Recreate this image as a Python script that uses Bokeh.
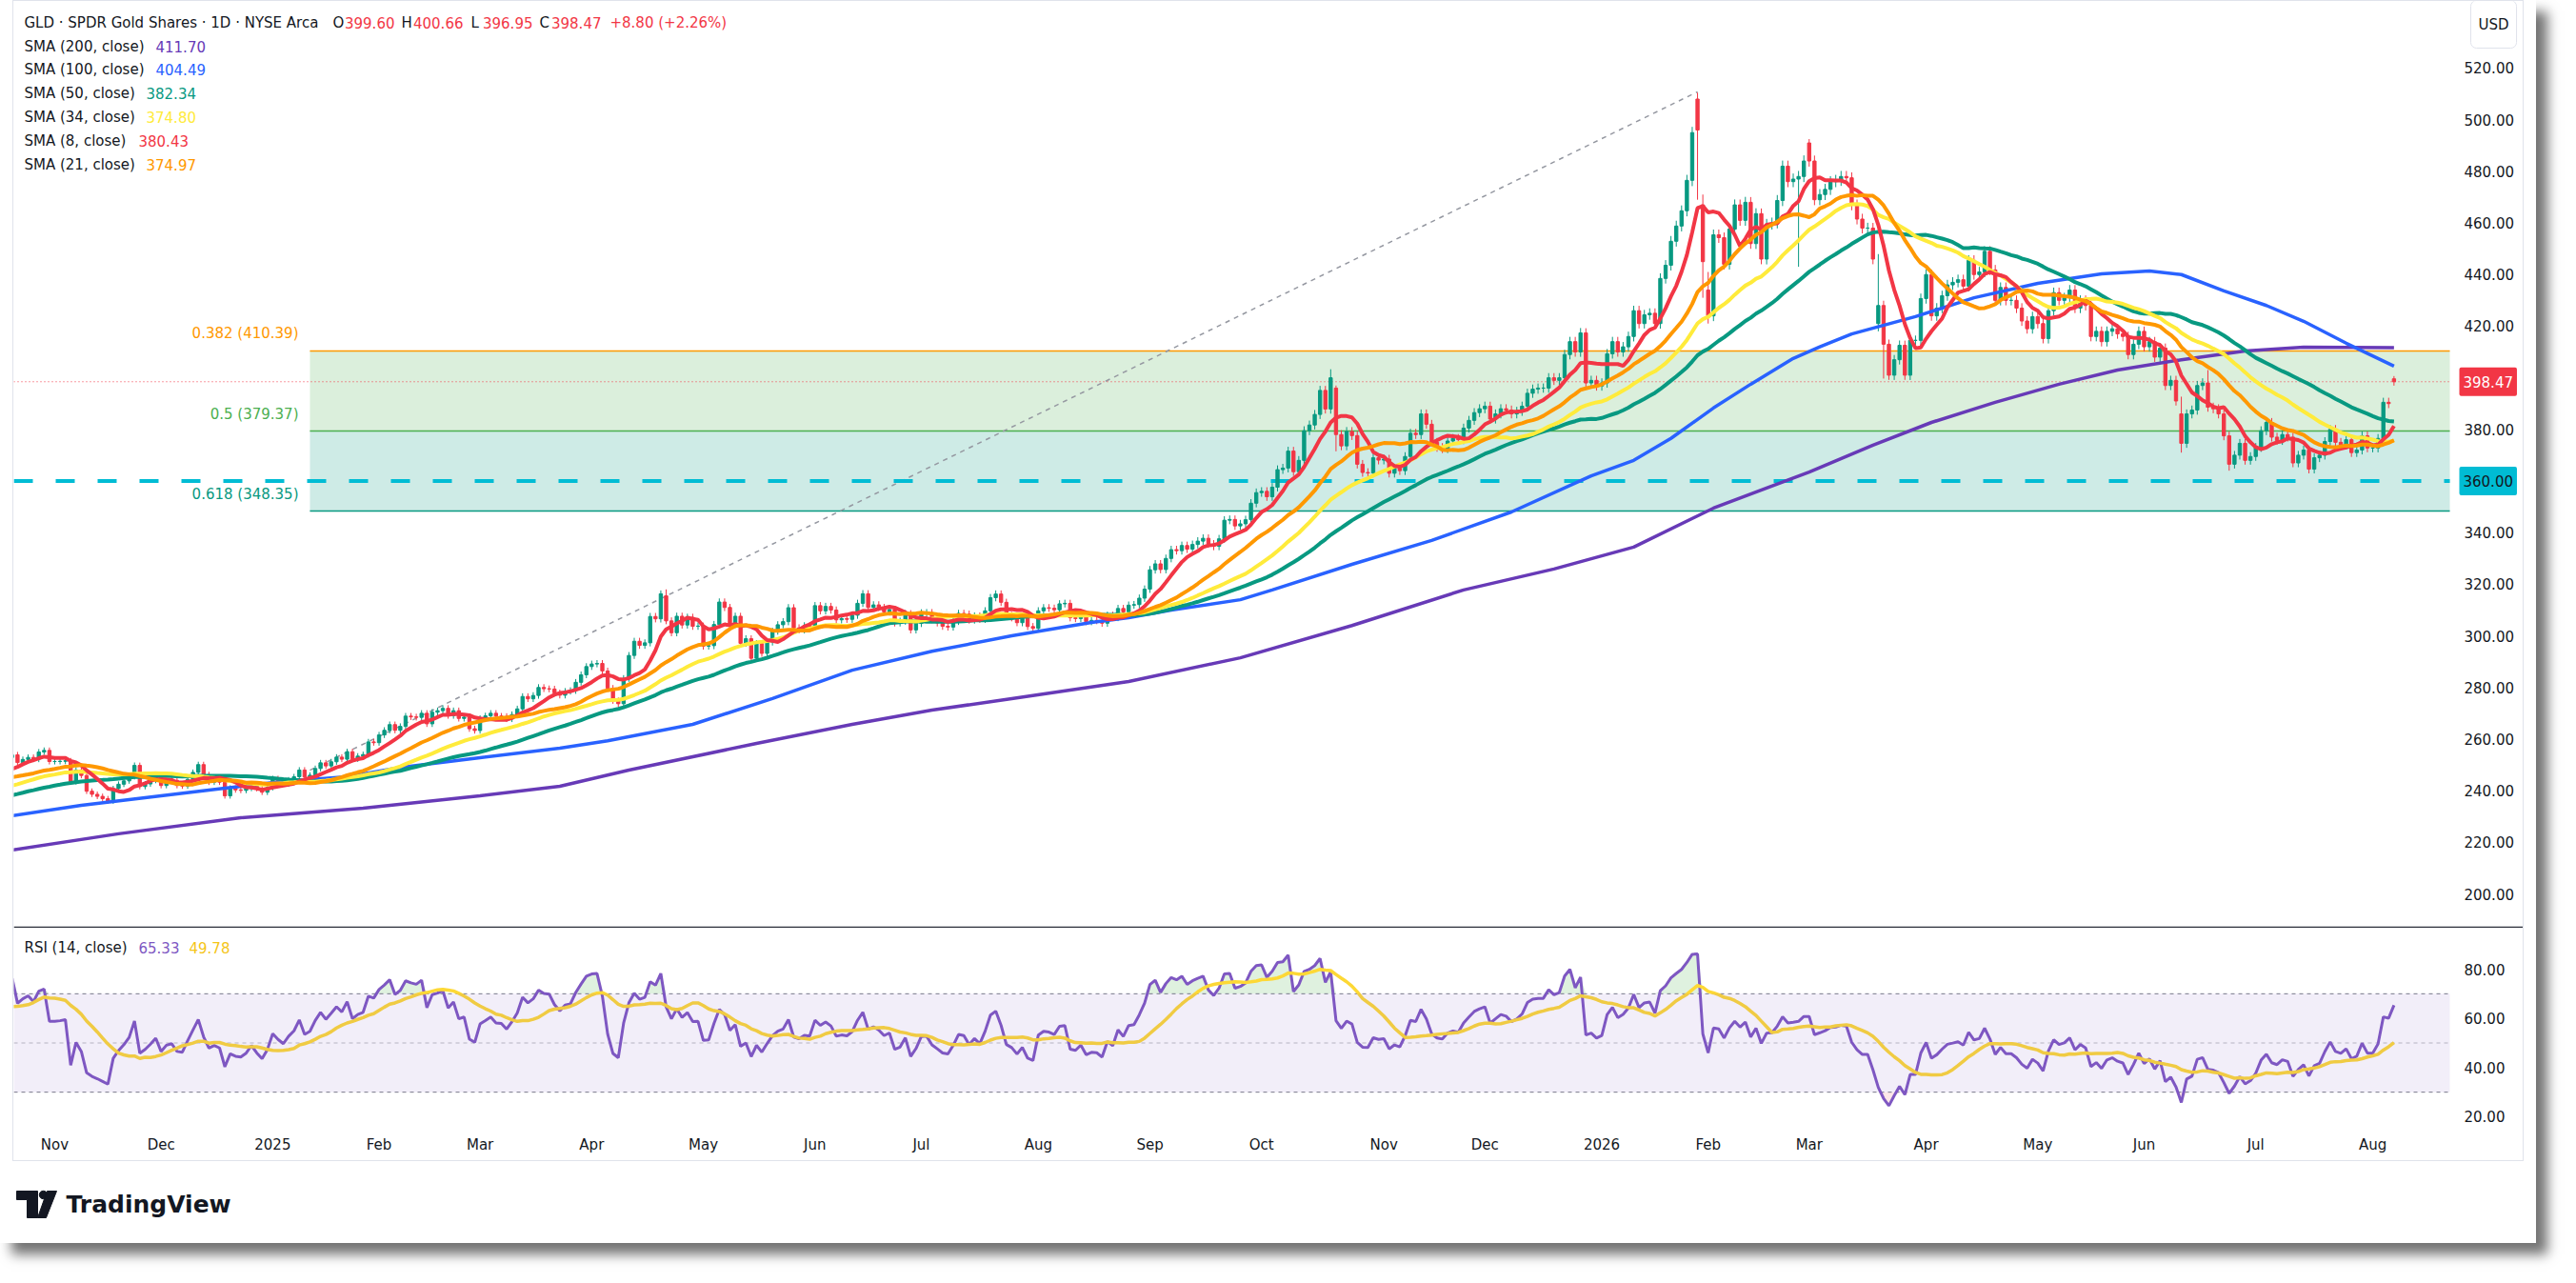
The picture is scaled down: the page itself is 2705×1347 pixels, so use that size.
import numpy as np
import pandas as pd
from bokeh.plotting import figure
from bokeh.models import (Range1d, FixedTicker, Label, Span, BoxAnnotation,
                          NumeralTickFormatter, Spacer)
from bokeh.layouts import column, row
from bokeh.embed import file_html
from bokeh.resources import INLINE
from bokeh.core.properties import value

# ---------------- data (daily closes, trading-day index 0 = 1 Nov 2024) ----------------
FIRST_VISIBLE = -8          # 22 Oct 2024
warmup_closes = [  # 12 Aug - 21 Oct 2024 (indicator warm-up, not drawn)
    225.0, 227.0, 226.4, 225.9, 230.7, 230.6, 232.1, 232.7, 229.6, 232.4,
    232.0, 232.0, 231.1, 232.5, 231.3, 228.8, 230.1, 232.6, 230.0,
    231.1, 232.0, 233.4, 237.5, 238.7, 239.2, 238.3, 236.9, 240.8, 242.7,
    242.5, 244.8, 244.7, 245.2, 243.3, 243.1,
    245.3, 244.3, 243.6, 243.1, 243.2, 240.6, 240.3, 241.9, 244.9,
    243.6, 245.5, 247.2, 248.7, 250.9, 252.8]
closes_2024 = [  # 22 Oct - 31 Dec 2024
    253.9, 250.9, 252.1, 252.9, 252.2, 255.0, 255.6, 251.3,
    251.3, 251.4, 251.6, 243.5, 248.0, 245.9, 239.8, 238.6, 237.8, 236.9,
    236.0, 240.8, 242.5, 243.8, 245.5, 249.8, 241.6, 242.6, 244.0, 245.6,
    242.0, 243.6, 244.0, 242.0, 241.8, 244.4, 247.1, 250.1, 246.2, 243.3,
    243.9, 243.3, 238.0, 241.0, 240.3, 240.1, 240.9, 242.5, 240.8, 239.4, 241.2]
closes_2025_h1 = [  # Jan - Jun 2025
    244.7, 243.5, 242.6, 244.2, 245.4, 248.0, 245.3, 246.0, 248.6, 250.8,
    249.6, 251.2, 253.0, 252.2, 255.1, 252.3, 253.4, 254.0, 258.9, 258.6,
    261.6, 263.4, 265.6, 263.4, 264.9, 268.9, 268.6, 268.4, 270.0, 265.9,
    270.4, 271.0, 271.9, 269.1, 271.0, 268.0, 268.5, 264.0, 263.3,
    268.0, 269.0, 270.0, 268.9, 268.8, 267.8, 269.5, 271.7, 276.5, 275.6,
    276.9, 280.0, 279.5, 279.4, 277.9, 277.0, 278.5, 278.8, 282.0, 284.9, 288.1,
    289.1, 289.3, 286.4, 279.7, 274.9, 273.7, 283.5, 292.4, 297.9, 296.3,
    297.3, 307.5, 306.6, 316.3, 305.8, 301.2, 307.6, 304.2, 307.2, 303.7, 303.8,
    296.0, 296.2, 304.4, 313.1, 311.0, 304.4, 307.6, 297.1, 298.9, 291.3,
    297.0, 293.2, 297.6, 301.8, 304.3, 305.5, 310.9, 303.1, 302.3, 303.9, 303.6,
    311.7, 309.7, 311.4, 310.0, 306.2, 306.7, 306.4, 308.0, 312.6, 316.3,
    311.0, 312.0, 311.0, 309.3, 310.2, 305.0, 305.7, 308.6, 302.3, 304.8]
closes_2025_h2 = [  # Jul - Dec 2025
    308.9, 309.0, 306.3, 305.0, 303.7, 303.4, 305.6, 308.7, 308.4, 306.1,
    307.7, 306.4, 309.7, 314.8, 316.2, 313.0, 307.9, 307.0, 305.1, 306.8, 303.6, 302.9,
    309.7, 310.9, 310.7, 310.1, 312.4, 312.6, 307.0, 306.7, 307.9, 305.5,
    306.0, 305.9, 304.9, 308.0, 307.1, 310.6, 309.3, 311.9, 312.1, 314.6, 318.1,
    325.6, 327.9, 325.7, 330.0, 333.4, 333.0, 335.0, 333.6, 335.4, 336.7,
    337.8, 335.6, 334.7, 337.6, 344.8, 345.1, 342.6, 343.4, 345.0, 351.4, 355.5,
    356.0, 353.9, 357.6, 364.4, 365.0, 371.6, 363.6, 368.0, 379.5, 381.7,
    385.8, 395.1, 387.9, 400.0, 378.0, 373.6, 379.2, 377.6, 366.5, 363.3,
    363.1, 369.0, 368.1,
    368.5, 363.0, 365.0, 364.0, 369.5, 378.5, 378.0, 386.0, 382.0, 375.0,
    373.0, 372.5, 375.5, 376.5, 376.0, 380.5, 383.5, 386.5, 388.0,
    389.0, 384.0, 386.0, 388.0, 387.5, 386.0, 387.0, 389.0, 394.0, 395.6,
    396.0, 396.0, 400.0, 399.0, 400.0, 409.0, 414.0, 410.0, 417.4, 398.0, 399.0, 396.8]
closes_2026 = [  # Jan - 7 Aug 2026
    398.0, 409.3, 414.0, 410.0, 412.0, 416.0, 426.0, 421.0, 424.4, 425.0,
    421.0, 438.5, 443.6, 452.9, 458.8, 464.7, 476.5, 495.0, 496.0, 445.0,
    424.0, 455.4, 454.3, 444.0, 457.6, 467.0, 461.0, 468.0, 452.0, 463.6,
    446.0, 459.5, 460.0, 468.7, 482.0, 476.0, 477.0, 478.0, 484.0,
    484.0, 469.0, 471.0, 473.0, 476.0, 476.5, 478.0, 477.5, 467.0, 461.5,
    458.0, 458.0, 446.0, 428.0, 413.0, 401.0, 407.0, 412.6, 401.0, 414.5, 414.5, 430.7,
    440.0, 424.0, 427.0, 431.8, 436.0, 437.0, 438.0, 435.5, 445.5, 440.0,
    441.0, 449.0, 441.8, 430.0, 435.0, 430.0, 430.0, 427.0, 422.0, 419.0, 423.7,
    421.0, 415.2, 426.0, 433.0, 430.0, 431.0, 434.0, 427.0, 430.0, 428.0,
    416.0, 418.0, 414.0, 418.0, 419.0, 417.0, 416.0, 409.0, 413.0, 418.0,
    412.0, 414.0, 408.0, 411.5, 397.0, 399.0, 391.0, 374.6, 386.0, 387.5,
    397.0, 398.0, 388.6, 388.0, 386.0, 377.5, 366.5, 370.0, 374.6, 368.0, 369.5,
    373.0, 379.5, 382.7, 377.0, 375.7, 378.0, 377.0, 367.0, 370.0, 372.0,
    364.6, 369.0, 370.0, 375.3, 380.0, 375.0, 374.0, 376.0, 371.0, 372.0, 377.5, 372.8,
    372.8, 376.5, 390.5, 390.0, 398.47]
# candles whose open / high / low were read separately: index -> (open, high, low)
candle_overrides = {
    114: (None, 317.6, None), 115: (315.5, 318.0, 304.5),
    240: (None, 403.3, None), 241: (396.0, 397.0, 371.5),
    309: (508.0, 510.5, 469.0), 310: (467.0, 471.0, 431.0), 311: (434.0, 441.0, 421.0),
    328: (None, None, 443.0), 330: (491.0, 492.5, None),
    343: (421.0, None, 418.0), 344: (428.0, None, 399.7),
    400: (386.0, None, 371.0), 405: (None, 403.0, None), 409: (None, None, 364.0),
    440: (399.60, 400.66, 396.95)}

sma100_idx = [-8, 5, 20, 32, 43, 55, 65, 80, 95, 104, 120, 135, 150, 165, 180, 195, 202,
              210, 223, 229, 244, 259, 274, 289, 297, 304, 312, 319, 327, 332, 338, 350,
              361, 373, 385, 394, 400, 408, 416, 423, 431, 440]
sma100_val = [230.3, 234.3, 238.0, 241.0, 243.6, 245.4, 249.0, 252.8, 256.5, 259.3, 265.7,
              275.7, 286.7, 294.0, 300.0, 305.2, 307.0, 310.0, 314.0, 317.8, 327.7, 337.0,
              348.0, 362.0, 368.0, 376.5, 388.3, 397.5, 407.5, 412.0, 417.0, 423.7, 431.0,
              436.6, 440.3, 441.4, 440.0, 433.7, 428.0, 421.9, 413.4, 404.5]
sma200_idx = [-8, 12, 35, 58, 80, 95, 108, 132, 150, 165, 180, 202, 223, 244, 265, 282, 297,
              312, 330, 342, 353, 365, 377, 388, 400, 412, 423, 440]
sma200_val = [217.0, 223.3, 229.5, 233.2, 238.0, 241.7, 248.0, 258.3, 265.7, 271.2, 275.7,
              282.3, 291.5, 304.0, 317.8, 325.9, 334.4, 349.5, 363.5, 373.9, 382.7, 390.5,
              397.5, 403.0, 407.0, 410.4, 411.9, 411.7]

fib_start_idx, fib_end_idx = 48, 309
fib_low, fib_high = 247.93, 510.81
fib_levels = [0.382, 0.5, 0.618]
support_level = 360.0
last_close = 398.47

month_ticks = [0, 20, 41, 61, 80, 101, 122, 143, 163, 185, 206, 227, 250, 269, 291, 311,
               330, 352, 373, 393, 414, 436]
month_labels = ["Nov", "Dec", "2025", "Feb", "Mar", "Apr", "May", "Jun", "Jul", "Aug", "Sep",
                "Oct", "Nov", "Dec", "2026", "Feb", "Mar", "Apr", "May", "Jun", "Jul", "Aug"]
price_ticks = [200, 220, 240, 260, 280, 300, 320, 340, 380, 420, 440, 460, 480, 500, 520]
rsi_ticks = [20, 40, 60, 80]

sma_periods = [200, 100, 50, 34, 8, 21]
sma_names = ["SMA (200, close)", "SMA (100, close)", "SMA (50, close)", "SMA (34, close)",
             "SMA (8, close)", "SMA (21, close)"]
sma_values = ["411.70", "404.49", "382.34", "374.80", "380.43", "374.97"]
sma_colors = ["#673ab7", "#2962ff", "#089981", "#ffeb3b", "#f23645", "#ff9800"]
title_text = "GLD \u00b7 SPDR Gold Shares \u00b7 1D \u00b7 NYSE Arca"
ohlc_keys = ["O", "H", "L", "C"]
ohlc_vals = ["399.60", "400.66", "396.95", "398.47"]
change_text = "+8.80 (+2.26%)"
rsi_vals = ["65.33", "49.78"]

# ---------------- derived series ----------------
closes = np.array(closes_2024 + closes_2025_h1 + closes_2025_h2 + closes_2026)
idx = np.arange(FIRST_VISIBLE, FIRST_VISIBLE + len(closes))
hist = pd.Series(warmup_closes + list(closes))
nw = len(warmup_closes)

opens = np.concatenate([[warmup_closes[-1]], closes[:-1]])
wick = 0.0045 * closes
highs = np.maximum(opens, closes) + wick
lows = np.minimum(opens, closes) - wick
for k, (o, h, l) in candle_overrides.items():
    j = k - FIRST_VISIBLE
    if o is not None:
        opens[j] = o
        highs[j] = max(highs[j], o + wick[j] * 0.3)
        lows[j] = min(lows[j], o - wick[j] * 0.3)
    if h is not None:
        highs[j] = h
    if l is not None:
        lows[j] = l
up = closes >= opens
ccol = np.where(up, "#089981", "#f23645")

sma = {n: hist.rolling(n).mean().values[nw:] for n in (8, 21, 34, 50)}

delta = hist.diff().values
gain = np.where(delta > 0, delta, 0.0)
loss = np.where(delta < 0, -delta, 0.0)
rsi_full = np.full(len(hist), np.nan)
ag = gain[1:15].mean()
al = loss[1:15].mean()
for t in range(15, len(hist)):
    ag = (ag * 13 + gain[t]) / 14
    al = (al * 13 + loss[t]) / 14
    rsi_full[t] = 100 - 100 / (1 + ag / al) if al > 0 else 100
rsi_ma_full = pd.Series(rsi_full).rolling(14).mean().values
rsi = rsi_full[nw:]
rsi_ma = rsi_ma_full[nw:]

# ---------------- geometry (page starts at 0,0) ----------------
PX_PER_I = 5.5827
PY_PER_P = 2.7094
PY_PER_R = 2.5833
FRAME_W = 2635                       # page x 14 .. 2649
X0 = -7.70
X1 = X0 + FRAME_W / PX_PER_I
AXIS_X = 450.5                       # price scale starts at page x 2572
P_TOP, P_BOT = 520 + 70 / PY_PER_P, 200 - 34 / PY_PER_P
R_TOP, R_BOT = 80 + 45 / PY_PER_R, 20 - 14 / PY_PER_R
FONT = "DejaVu Sans"
INK = "#131722"


def ix(page_x):
    return (page_x - 57) / PX_PER_I


def py(page_y):
    return 200 + (938 - page_y) / PY_PER_P


def ry(page_y):
    return 80 + (1017 - page_y) / PY_PER_R


price = figure(width=FRAME_W, height=971, x_range=Range1d(X0, X1),
               y_range=Range1d(P_BOT, P_TOP), output_backend="svg", toolbar_location=None,
               x_axis_location=None, y_axis_location="right", min_border=0)
rsif = figure(width=FRAME_W, height=246, x_range=price.x_range, y_range=Range1d(R_BOT, R_TOP),
              output_backend="svg", toolbar_location=None, y_axis_location="right",
              min_border=0, min_border_bottom=32)
for p in (price, rsif):
    p.grid.visible = False
    p.outline_line_color = None
    p.background_fill_color = "white"
    p.border_fill_color = "white"
    ax = p.yaxis[0]
    ax.fixed_location = AXIS_X
    ax.axis_line_color = None
    ax.major_tick_line_color = None
    ax.minor_tick_line_color = None
    ax.major_tick_out = 0
    ax.major_tick_in = 0
    ax.minor_tick_out = 0
    ax.major_label_standoff = 15
    ax.major_label_text_font = FONT
    ax.major_label_text_font_size = "15px"
    ax.major_label_text_color = INK
    ax.formatter = NumeralTickFormatter(format="0.00")

price.yaxis[0].ticker = FixedTicker(ticks=price_ticks)
rsif.yaxis[0].ticker = FixedTicker(ticks=rsi_ticks)
xa = rsif.xaxis[0]
xa.ticker = FixedTicker(ticks=month_ticks)
xa.major_label_overrides = {t: l for t, l in zip(month_ticks, month_labels)}
xa.axis_line_color = None
xa.major_tick_line_color = None
xa.minor_tick_line_color = None
xa.major_tick_out = 0
xa.major_tick_in = 0
xa.minor_tick_out = 0
xa.major_label_standoff = 6
xa.major_label_text_font = FONT
xa.major_label_text_font_size = "15px"
xa.major_label_text_color = INK

# ---- fib retracement ----
rng = fib_high - fib_low
lv = [fib_high - f * rng for f in fib_levels]
price.quad(left=[fib_start_idx], right=[AXIS_X], top=[lv[0]], bottom=[lv[1]],
           fill_color="#4caf50", fill_alpha=0.2, line_color=None)
price.quad(left=[fib_start_idx], right=[AXIS_X], top=[lv[1]], bottom=[lv[2]],
           fill_color="#089981", fill_alpha=0.2, line_color=None)
fib_cols = ["#ff9800", "#4caf50", "#089981"]
for f, y, c in zip(fib_levels, lv, fib_cols):
    price.segment(x0=[fib_start_idx], x1=[AXIS_X], y0=[y], y1=[y], line_color=c, line_width=1.5)
    lab = ("%g" % f) + " (%.2f)" % y
    price.add_layout(Label(x=ix(313), y=y + 18 / PY_PER_P, text=lab, text_align="right",
                           text_baseline="middle", text_font=FONT, text_font_size="15px",
                           text_color=c))
price.line([fib_start_idx, fib_end_idx], [fib_low, fib_high], line_color="#9598a1",
           line_width=1.5, line_dash="5 5")

price.segment(x0=[X0], x1=[AXIS_X], y0=[support_level], y1=[support_level],
              line_color="#00bcd4", line_width=4, line_dash="20 24")
price.segment(x0=[X0], x1=[AXIS_X], y0=[last_close], y1=[last_close],
              line_color="#f23645", line_width=1, line_dash="1 3")

# ---- candles ----
price.segment(x0=idx, x1=idx, y0=lows, y1=highs, line_color=ccol, line_width=1)
price.vbar(x=idx, width=0.6, top=np.maximum(opens, closes), bottom=np.minimum(opens, closes),
           fill_color=ccol, line_color=ccol, line_width=1)

# ---- moving averages ----
price.line(sma200_idx, sma200_val, line_color=sma_colors[0], line_width=3.5)
price.line(sma100_idx, sma100_val, line_color=sma_colors[1], line_width=3.5)
price.line(idx, sma[50], line_color=sma_colors[2], line_width=4)
price.line(idx, sma[34], line_color=sma_colors[3], line_width=4)
price.line(idx, sma[8], line_color=sma_colors[4], line_width=4)
price.line(idx, sma[21], line_color=sma_colors[5], line_width=4)


# ---- legend texts ----
def txt(p, x, y, t, color=INK, align="left", fs="15px"):
    p.add_layout(Label(x=x, y=y, text=t, text_align=align, text_baseline="middle",
                       text_font=FONT, text_font_size=fs, text_color=color))


txt(price, ix(25), py(23), title_text)
for k, v, xk in zip(ohlc_keys, ohlc_vals, [349, 421, 494, 566]):
    txt(price, ix(xk), py(23), k)
    txt(price, ix(xk + 12.5), py(23), v, "#f23645")
txt(price, ix(640), py(23), change_text, "#f23645")
val_x = [163, 163, 153, 153, 145, 153]
for i, (nm, v, c, vx) in enumerate(zip(sma_names, sma_values, sma_colors, val_x)):
    yy = py(48 + 24.8 * i)
    txt(price, ix(25), yy, nm)
    txt(price, ix(vx), yy, v, c)

# ---- price scale tags ----
price.add_layout(Label(x=ix(2582), y=last_close, text="398.47", text_align="left",
                       text_baseline="middle", text_font=FONT, text_font_size="15px",
                       text_color="white", background_fill_color="#f23645", padding=(4, 9),
                       border_radius=2))
price.add_layout(Label(x=ix(2582), y=support_level, text="360.00", text_align="left",
                       text_baseline="middle", text_font=FONT, text_font_size="15px",
                       text_color=INK, background_fill_color="#00bcd4", padding=(4, 9),
                       border_radius=2))
price.add_layout(Label(x=ix(2594), y=py(25), text="USD", text_align="left",
                       text_baseline="middle", text_font=FONT, text_font_size="15px",
                       text_color=INK, background_fill_color="white",
                       border_line_color="#e0e3eb", padding=(8, 16), border_radius=6))

# ---- RSI pane ----
rsif.add_layout(BoxAnnotation(right=AXIS_X, bottom=30, top=70, fill_color="#7e57c2",
                              fill_alpha=0.1, line_color=None))
rsif.varea(x=idx, y1=np.full(len(idx), 70.0), y2=np.maximum(rsi, 70.0),
           fill_color="#4caf50", fill_alpha=0.18)
rsif.varea(x=idx, y1=np.minimum(rsi, 30.0), y2=np.full(len(idx), 30.0),
           fill_color="#f23645", fill_alpha=0.12)
for lvl, a in ((70, 1.0), (50, 0.5), (30, 1.0)):
    rsif.segment(x0=[X0], x1=[AXIS_X], y0=[lvl], y1=[lvl], line_color="#787b86",
                 line_alpha=a, line_width=1, line_dash="4 4")
rsif.line(idx, rsi, line_color="#7e57c2", line_width=3)
rsif.line(idx, rsi_ma, line_color="#fdd835", line_width=3.5)
rsif.add_layout(Span(location=R_TOP - 0.3, dimension="width", line_color="#2a2e39",
                     line_width=1.5))
txt(rsif, ix(25), ry(994), "RSI (14, close)")
txt(rsif, ix(145), ry(994), rsi_vals[0], "#7e57c2")
txt(rsif, ix(198), ry(994), rsi_vals[1], "#f5c518")

# ---- TradingView logo strip ----
LW, LH = 2663, 86
logo = figure(width=LW, height=LH, x_range=Range1d(0, LW), y_range=Range1d(LH, 0),
              output_backend="svg", toolbar_location=None, x_axis_location=None,
              y_axis_location=None, min_border=0)
logo.grid.visible = False
logo.outline_line_color = None
logo.background_fill_color = "white"
logo.border_fill_color = "white"
logo.patch([17, 39, 39, 28, 28, 17], [31, 31, 59, 59, 40, 40], color=INK)
logo.circle(x=[45], y=[35], radius=4.2, color=INK)
logo.patch([49, 59, 48, 39], [31, 31, 59, 59], color=INK)
logo.text(x=[69], y=[45], text=["TradingView"], text_font=value(FONT), text_font_style="bold",
          text_font_size="25px", text_baseline="middle", text_color=INK)

chart = column(price, rsif, styles={"border": "1px solid #e0e3eb"})
top = row(Spacer(width=13, height=10), chart)
page = column(top, logo, styles={"background-color": "#ffffff",
                                 "box-shadow": "12px 12px 12px rgba(0,0,0,0.55)"})

open("out.html", "w").write(file_html(page, INLINE))
